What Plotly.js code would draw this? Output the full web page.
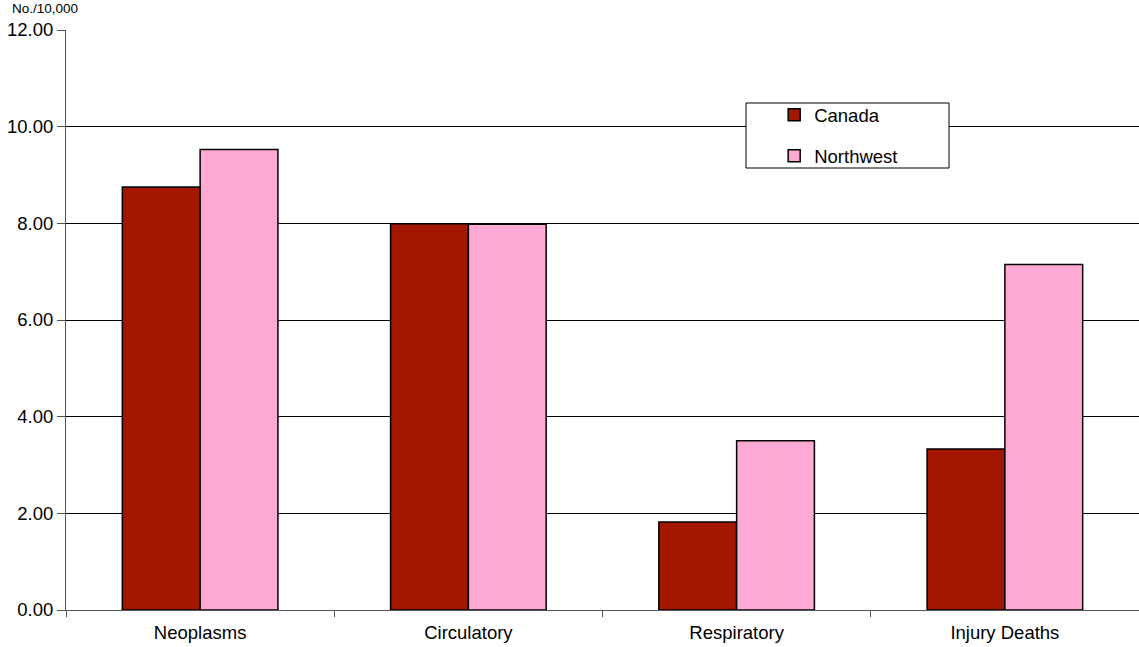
<!DOCTYPE html>
<html>
<head>
<meta charset="utf-8">
<script src="https://cdn.plot.ly/plotly-3.0.1.min.js"></script>
<style>html,body{margin:0;padding:0;background:#fff;}#chart{width:1139px;height:647px;}</style>
</head>
<body>
<div id="chart"></div>
<script>
var categories = ["Neoplasms", "Circulatory", "Respiratory", "Injury Deaths"];
var canadaValues = [8.75, 7.99, 1.82, 3.33];
var northwestValues = [9.53, 7.98, 3.50, 7.15];
var yTickValues = [0, 2, 4, 6, 8, 10, 12];
var yTickLabels = ["0.00", "2.00", "4.00", "6.00", "8.00", "10.00", "12.00"];

var font = "Liberation Sans, Arial, Helvetica, sans-serif";
var fs = 18.5;
var traces = [
  {type: "bar", name: "Canada", x: categories, y: canadaValues, legendgroup: "a",
   marker: {color: "#A31600", line: {color: "#000", width: 1.5}}},
  {type: "bar", name: "Northwest", x: categories, y: northwestValues, legendgroup: "b",
   marker: {color: "#FFAAD5", line: {color: "#000", width: 1.5}}}
];
var layout = {
  width: 1139, height: 647,
  margin: {l: 66, r: 0, t: 30, b: 37},
  paper_bgcolor: "#fff", plot_bgcolor: "#fff",
  barmode: "group", bargap: 0.42, bargroupgap: 0,
  font: {family: font, size: fs, color: "#000"},
  xaxis: {
    type: "category", showgrid: false, showline: true, linecolor: "#555", linewidth: 1,
    ticks: "outside", tickson: "boundaries", ticklen: 6, tickcolor: "#555",
    ticklabelstandoff: 6,
    tickfont: {family: font, size: fs, color: "#000"}
  },
  yaxis: {
    range: [0, 12], tickvals: yTickValues, ticktext: yTickLabels,
    showgrid: true, gridcolor: "#000", gridwidth: 1,
    showline: true, linecolor: "#555", linewidth: 1,
    ticks: "outside", ticklen: 8, tickcolor: "#555",
    tickfont: {family: font, size: fs, color: "#000"}, zeroline: false
  },
  showlegend: true,
  legend: {x: 0.660, y: 0.886, xanchor: "left", yanchor: "top",
    bgcolor: "rgba(0,0,0,0)", borderwidth: 0, traceorder: "grouped", tracegroupgap: 14,
    font: {family: font, size: fs, color: "#000"}},
  shapes: [{type: "rect", xref: "paper", yref: "paper",
    x0: (746 - 66) / 1073, x1: (949 - 66) / 1073,
    y0: (610 - 168) / 580, y1: (610 - 103) / 580,
    fillcolor: "#fff", line: {color: "#000", width: 1}, layer: "above"}],
  annotations: [{text: "No./10,000", xref: "paper", yref: "paper",
    x: (10 - 66) / 1073, y: (610 - 9) / 580, xanchor: "left", yanchor: "middle",
    showarrow: false, font: {family: font, size: 13.5, color: "#000"}}]
};
Plotly.newPlot("chart", traces, layout, {displayModeBar: false});
</script>
</body>
</html>
